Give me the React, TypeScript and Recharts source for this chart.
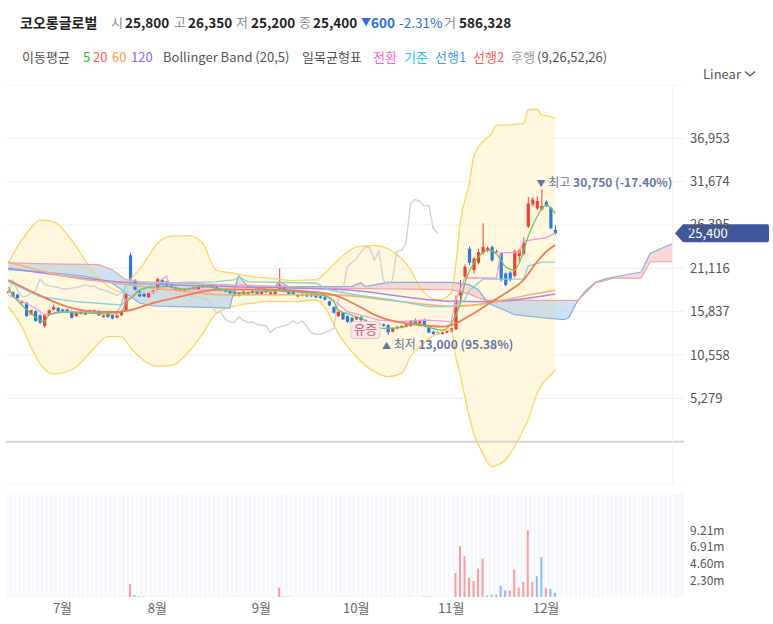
import React from "react";
import {
  ComposedChart,
  Bar,
  Line,
  Area,
  XAxis,
  YAxis,
  CartesianGrid,
  ReferenceLine,
  ReferenceDot,
  Cell,
} from "recharts";

const FONT = "'Noto Sans CJK KR', 'Noto Sans', sans-serif";

// daily candles, mid-June .. Dec 3 (index = trading day)
const opens = [
  18100, 18200, 17900, 16900, 16900, 15500, 15900, 15400, 14100, 15500, 16100, 16300, 16100, 16100, 15900, 15300,
  15600, 15700, 15800, 15900, 15900, 15200, 15600, 15400, 15100, 15400, 16000, 22700, 19600, 18300, 18000, 17600,
  18100, 18500, 19700, 19500, 19100, 18500, 18400, 18400, 18500, 18700, 18600, 18800, 19000, 19100, 18800, 18400,
  18500, 18500, 18300, 17800, 18000, 18000, 18100, 18300, 18000, 18400, 18000, 17900, 18500, 18900, 18300, 18300,
  17700, 17800, 18000, 17900, 17900, 17700, 17600, 17100, 16400, 15300, 15700, 15300, 15100, 14900, 15200, 14800,
  14500, 14600, 14400, 14300, 14200, 13400, 13800, 13900, 14000, 14100, 14800, 14400, 14700, 13900, 13400, 13300,
  13100, 13300, 13400, 13700, 17800, 20100, 23500, 20900, 21800, 23000, 23300, 23700, 23100, 23000, 20500, 20600,
  20200, 22600, 22900, 26200, 28900, 28400, 28300, 29200, 28500, 25800,
];
const highs = [
  18500, 18300, 18000, 17200, 17000, 16100, 16000, 15500, 15600, 16100, 16700, 16400, 16200, 16200, 16000, 15900,
  15900, 15800, 16100, 16100, 16000, 15500, 15700, 15500, 15500, 16000, 18100, 23000, 19800, 18500, 18100, 18200,
  18500, 20000, 19900, 19600, 19200, 18900, 18700, 18700, 18800, 18900, 19000, 19200, 19100, 19200, 18900, 18600,
  18600, 18600, 18400, 18200, 18400, 18300, 18500, 18400, 18400, 18500, 18300, 18400, 21100, 19000, 18400, 18400,
  18000, 18100, 18100, 18000, 18000, 17800, 17700, 17200, 16500, 15900, 15800, 15400, 15200, 15300, 15300, 14900,
  14700, 14700, 14500, 14400, 14300, 13900, 14100, 14200, 14400, 14800, 15000, 14800, 15000, 14000, 13500, 13400,
  13400, 13600, 13900, 17800, 19700, 21600, 23800, 22500, 23500, 26600, 23800, 23900, 23400, 23100, 20600, 20800,
  23400, 23500, 24900, 29800, 29800, 29900, 30750, 29400, 28600, 26350,
];
const lows = [
  18000, 17600, 17400, 16800, 15200, 15400, 14600, 14300, 13900, 15400, 16000, 15800, 15800, 15700, 15000, 15200,
  15500, 15400, 15700, 15800, 15300, 15100, 15100, 14900, 15000, 15300, 15900, 19500, 18400, 17600, 17600, 17500,
  18000, 18400, 19100, 18900, 18800, 18400, 18300, 18300, 18400, 18600, 18500, 18700, 18800, 18900, 18500, 18300,
  18200, 18000, 17700, 17700, 17900, 17900, 18000, 17900, 17900, 18100, 17900, 17800, 18400, 18200, 17900, 17900,
  17600, 17700, 17600, 17600, 17500, 17400, 17200, 16500, 15600, 15200, 14800, 14500, 14400, 14800, 14700, 14400,
  14400, 14200, 14100, 14000, 13000, 13300, 13700, 13800, 13900, 14000, 14300, 14300, 14000, 13200, 13050, 13050,
  13050, 13200, 13300, 13600, 16900, 19900, 21500, 20500, 21600, 22800, 23100, 21900, 23000, 19500, 18900, 19500,
  20000, 21900, 22700, 26000, 28600, 28200, 28100, 28600, 25900, 25200,
];
const closes = [
  18300, 17700, 17500, 17100, 15300, 16000, 14700, 14500, 15500, 16000, 16400, 15900, 15900, 15800, 15100, 15800,
  15800, 15500, 16000, 16000, 15400, 15400, 15200, 15000, 15400, 15900, 18000, 19700, 18500, 17700, 17700, 18100,
  18400, 19800, 19200, 19000, 18900, 18800, 18600, 18600, 18700, 18800, 18900, 19100, 18900, 19000, 18600, 18500,
  18300, 18100, 17800, 18100, 18300, 18200, 18400, 18000, 18300, 18200, 18200, 18300, 19100, 18300, 18000, 18000,
  17900, 18000, 17700, 17700, 17600, 17500, 17300, 16600, 15700, 15800, 14900, 14600, 14500, 15200, 14800, 14500,
  14600, 14300, 14200, 14100, 13300, 13800, 14000, 14100, 14300, 14700, 14400, 14700, 14100, 13300, 13100, 13100,
  13300, 13500, 13800, 17300, 18300, 21300, 21800, 22300, 23100, 23700, 23600, 22100, 23200, 19700, 19100, 19700,
  23200, 23300, 24200, 29000, 29500, 29300, 28700, 28800, 26000, 25400,
];
// volume in millions of shares
const volumes = [
  0.02, 0.02, 0.02, 0.02, 0.02, 0.02, 0.02, 0.02, 0.02, 0.02, 0.02, 0.02, 0.02, 0.02, 0.02, 0.02,
  0.02, 0.02, 0.02, 0.02, 0.02, 0.02, 0.02, 0.02, 0.02, 0.02, 0.02, 1.75, 0.25, 0.1, 0.08, 0.02,
  0.02, 0.05, 0.05, 0.02, 0.02, 0.02, 0.02, 0.02, 0.02, 0.02, 0.02, 0.02, 0.02, 0.02, 0.02, 0.02,
  0.02, 0.02, 0.02, 0.02, 0.02, 0.02, 0.02, 0.02, 0.02, 0.02, 0.02, 0.02, 1.3, 0.1, 0.08, 0.02,
  0.02, 0.02, 0.02, 0.02, 0.02, 0.02, 0.02, 0.02, 0.02, 0.04, 0.02, 0.04, 0.02, 0.02, 0.02, 0.02,
  0.02, 0.02, 0.02, 0.02, 0.05, 0.02, 0.02, 0.02, 0.02, 0.05, 0.02, 0.02, 0.08, 0.08, 0.02, 0.02,
  0.02, 0.02, 0.02, 3.3, 6.98, 5.6, 2.67, 2.2, 3.91, 5.29, 0.19, 0.33, 0.37, 1.57, 0.92, 0.92,
  3.77, 1.29, 2.07, 9.18, 2.07, 2.85, 5.51, 1.29, 1.1, 0.586,
];

const monthTicks = [12, 33, 56, 77, 98, 119];
const monthLabels = ["7월", "8월", "9월", "10월", "11월", "12월"];
const priceTicks = [5279, 10558, 15837, 21116, 26395, 31674, 36953];
const volumeTicks = [2.3, 4.6, 6.91, 9.21];

// indicator lines: [day index, value]
const ma5Pts = [
  [0, 18880], [1, 17870], [3, 16650], [5, 15640], [7, 14820], [8, 14620], [9, 15430], [12, 15830], [15, 15710],
  [19, 15640], [23, 15550], [25, 15830], [26, 16860], [28, 17870], [29, 18480], [33, 18880], [35, 18880],
  [39, 18560], [43, 18880], [48, 18480], [51, 18150], [56, 18270], [59, 18390], [62, 18270], [67, 18080],
  [70, 17750], [72, 17050], [73, 16040], [76, 15430], [78, 15030], [83, 13810], [87, 13930], [90, 14420],
  [93, 13930], [96, 13600], [98, 14420], [100, 16860], [101, 19290], [103, 21730], [105, 23020], [106, 23350],
  [108, 22860], [110, 21320], [112, 20910], [113, 21730], [115, 24970], [117, 27400], [119, 28830], [121, 27820],
];
const ma20Pts = [
  [0, 19700], [6, 18080], [13, 16440], [19, 15830], [24, 15800], [27, 16040], [32, 16890], [38, 17660],
  [43, 18270], [47, 18560], [54, 18560], [60, 18480], [66, 18270], [72, 17870], [77, 16650], [82, 15230],
  [87, 14490], [91, 14210], [96, 14010], [98, 14210], [103, 15640], [107, 17050], [110, 18080], [114, 19700],
  [117, 21920], [119, 23140], [121, 23960],
];
const ma60Pts = [
  [0, 21890], [13, 20100], [24, 19290], [37, 18400], [48, 17900], [60, 17900], [73, 17850], [85, 17200],
  [98, 16500], [106, 16850], [115, 17870], [121, 18450],
];
const ma120Pts = [
  [0, 21120], [24, 19490], [50, 18880], [75, 18480], [98, 17100], [106, 17050], [121, 17990],
];
const convPts = [
  [0, 17870], [6, 16280], [8, 15430], [13, 15840], [24, 15840], [26, 17260], [29, 18480], [33, 19330],
  [35, 20180], [36, 18720], [43, 18480], [54, 18480], [63, 18480], [69, 18230], [72, 17260], [75, 15840],
  [78, 15430], [82, 14820], [87, 14620], [92, 14820], [98, 14620], [99, 17260], [101, 19940], [108, 19940],
  [109, 23020], [113, 23020], [114, 24430], [119, 24840], [121, 25440],
];
const basePts = [
  [0, 19490], [7, 17660], [15, 17060], [25, 16650], [26, 19090], [34, 19330], [46, 19490], [50, 19700],
  [51, 20100], [53, 19490], [68, 19330], [71, 18480], [77, 17870], [85, 17260], [93, 16450], [98, 16450],
  [100, 16900], [101, 17300], [102, 18400], [105, 19800], [114, 19800], [115, 21400], [118, 21870], [121, 21870],
];
// leading spans (shifted 26 days ahead)
const cloudIdx = [
  0, 6, 12, 17, 20, 23, 26, 29, 32, 42, 49, 50, 51, 53, 56, 59, 60, 62, 66, 71, 76, 78, 79, 84, 92, 98, 102, 104,
  106, 112, 118, 123, 124, 126, 128, 130, 132, 134, 140, 142, 147,
];
const span1 = [
  20950, 20750, 20450, 20140, 19800, 19330, 18100, 16890, 16530, 16380, 16280, 18510, 20220, 18880, 18630, 18880,
  19530, 18880, 18880, 18880, 18920, 19370, 18880, 19410, 19410, 19410, 19130, 18510, 16930, 15470, 15100, 14860,
  15100, 17210, 18510, 19450, 19800, 20060, 20670, 22920, 24140,
];
const span2 = [
  21770, 21700, 21640, 21600, 21560, 20950, 19730, 19490, 19430, 19250, 19100, 19080, 19060, 19030, 18980, 18930,
  18910, 18880, 18750, 18700, 18670, 18650, 18640, 18610, 18560, 18510, 18000, 17500, 17210, 17210, 17210, 17210,
  17210, 17210, 18300, 19370, 19600, 19930, 19930, 21920, 21920,
];
// Bollinger band
const bbIdx = [
  0, 3, 5, 7, 10, 14, 18, 22, 25, 27, 30, 33, 36, 40, 43, 46, 50, 54, 58, 63, 68, 70, 73, 77, 81, 84, 87, 89, 91,
  95, 98, 99, 100, 102, 103, 105, 107, 108, 110, 112, 114, 115, 117, 118, 120, 121,
];
const bbUpper = [
  21770, 24570, 26000, 27000, 26800, 24570, 21320, 19000, 18270, 19700, 21730, 24170, 25050, 25090, 24170, 20910,
  20510, 20100, 19900, 19650, 19700, 20500, 22130, 23700, 23900, 23500, 22300, 21000, 18880, 17260, 18110, 21500,
  26640, 31500, 34710, 36540, 37560, 38570, 38570, 38650, 38780, 40400, 40490, 39790, 39590, 39390,
];
const bbLower = [
  16440, 14010, 11570, 9550, 8250, 8730, 10770, 12790, 12790, 11500, 9900, 9200, 9300, 11000, 13200, 15600,
  16500, 16860, 17050, 17050, 17260, 16440, 13200, 10350, 8530, 7920, 8330, 10350, 11570, 13200, 13610, 10350,
  8100, 3050, 1000, -1500, -3050, -2900, -2230, -610, 1500, 2640, 5900, 6900, 8120, 8730,
];

const rightsIssueDay = 79;
const LAG = 26;
const SLOTS = 150;

// ---- table for recharts ----
const rows: any[] = Array.from({ length: SLOTS }, (_, i) => ({ i }));
closes.forEach((c, i) => {
  Object.assign(rows[i], {
    o: opens[i],
    h: highs[i],
    l: lows[i],
    c,
    vol: volumes[i],
    up: i === 0 ? c >= opens[i] : c >= closes[i - 1],
  });
  if (i - LAG >= 0) rows[i - LAG].lag = c;
});
const put = (key: string, pts: number[][]) => pts.forEach(([i, v]) => (rows[i][key] = v));
put("ma5", ma5Pts);
put("ma20", ma20Pts);
put("ma60", ma60Pts);
put("ma120", ma120Pts);
put("conv", convPts);
put("base", basePts);
cloudIdx.forEach((i, k) => {
  rows[i].s1 = span1[k];
  rows[i].s2 = span2[k];
});
bbIdx.forEach((i, k) => {
  rows[i].bbU = bbUpper[k];
  rows[i].bbL = bbLower[k];
});

// split cloud into same-colour runs (red when span1 is above)
const cloudRuns: { key: string; red: boolean }[] = [];
{
  let start = 0;
  for (let k = 1; k <= cloudIdx.length; k++) {
    const red = span1[start] > span2[start];
    const nextRed = k < cloudIdx.length ? span1[k] > span2[k] : !red;
    if (nextRed !== red) {
      const key = "cloud" + cloudRuns.length;
      for (let j = start; j <= Math.min(k, cloudIdx.length - 1); j++) {
        rows[cloudIdx[j]][key] = [Math.min(span1[j], span2[j]), Math.max(span1[j], span2[j])];
      }
      cloudRuns.push({ key, red });
      start = k;
    }
  }
}

const lastClose = closes[closes.length - 1];
const minLow = Math.min(...lows);
const maxHigh = Math.max(...highs);
const lowDay = lows.indexOf(minLow);
const highDay = highs.indexOf(maxHigh);
const pct = (v: number) => ((lastClose / v - 1) * 100).toFixed(2);
const fmt = (v: number) => v.toLocaleString("en-US");

const RED = "#ef4036";
const BLUE = "#2a78dc";

const Candle = (p: any) => {
  const { x, y, width, height, payload } = p;
  if (!payload || payload.o == null || height == null) return null;
  const { o, h, l, c } = payload;
  const top = Math.min(y, y + height);
  const bot = Math.max(y, y + height);
  const k = (bot - top) / (h - l || 1);
  const py = (v: number) => top + (h - v) * k;
  const color = c >= o ? RED : BLUE;
  const cx = x + width / 2;
  const bt = py(Math.max(o, c));
  const bb = py(Math.min(o, c));
  return (
    <g>
      <line x1={cx} x2={cx} y1={top} y2={bot} stroke={color} strokeWidth={1} />
      <rect x={cx - 1.6} y={bt} width={3.2} height={Math.max(bb - bt, 1)} fill={color} />
    </g>
  );
};

const RightTick = (p: any) => (
  <text x={p.x} y={p.y} dy={4.5} fontSize={p.size || 13} fill="#555" textAnchor="start" fontFamily={FONT}>
    {p.fmt(p.payload.value)}
  </text>
);

const PriceTag = (p: any) => {
  const vb = p.viewBox || {};
  const x0 = vb.x + vb.width;
  const y = vb.y;
  return (
    <g>
      <path
        d={`M${x0 - 9},${y} L${x0 - 1},${y - 9} L${x0 + 83},${y - 9} Q${x0 + 85},${y - 9} ${x0 + 85},${y - 7} L${x0 + 85},${y + 7} Q${x0 + 85},${y + 9} ${x0 + 83},${y + 9} L${x0 - 1},${y + 9} Z`}
        fill="#40589a"
      />
      <text x={x0 + 4} y={y + 4.5} fontSize={13} fill="#fff" fontFamily={FONT}>
        {fmt(lastClose)}
      </text>
    </g>
  );
};

const HighMark = (p: any) => (
  <text x={p.cx - 5} y={p.cy - 2.5} fontSize={12} fill="#6676a3" fontFamily={FONT}>
    <tspan fontSize={9}>▼</tspan>
    <tspan> 최고 </tspan>
    <tspan fontWeight={700}>{`${fmt(maxHigh)} (${pct(maxHigh)}%)`}</tspan>
  </text>
);

const LowMark = (p: any) => (
  <text x={p.cx - 6} y={p.cy + 14.5} fontSize={12} fill="#6676a3" fontFamily={FONT}>
    <tspan fontSize={9}>▲</tspan>
    <tspan> 최저 </tspan>
    <tspan fontWeight={700}>{`${fmt(minLow)} (${pct(minLow)}%)`}</tspan>
  </text>
);

const RightsBadge = (p: any) => (
  <g>
    <rect x={p.cx - 14.5} y={p.cy - 2} width={29} height={17} rx={3} fill="#fce8eb" stroke="#f3c3ca" />
    <text x={p.cx} y={p.cy + 11} fontSize={13} fill="#b8646f" textAnchor="middle" fontFamily={FONT}>
      유증
    </text>
  </g>
);

const line = (key: string, color: string, width = 1.2, type: any = "monotone") => (
  <Line
    key={key}
    dataKey={key}
    stroke={color}
    strokeWidth={width}
    dot={false}
    activeDot={false}
    connectNulls
    type={type}
    isAnimationActive={false}
  />
);

function Header() {
  const gray = "#8b8b8b";
  const ink = "#222";
  const line1: [string, number, string, number, number][] = [
    ["코오롱글로벌", 20, ink, 700, 14],
    ["시", 111, gray, 400, 13],
    ["25,800", 125, ink, 700, 13.5],
    ["고", 174, gray, 400, 13],
    ["26,350", 188, ink, 700, 13.5],
    ["저", 236, gray, 400, 13],
    ["25,200", 251, ink, 700, 13.5],
    ["종", 299, gray, 400, 13],
    ["25,400", 313, ink, 700, 13.5],
    ["600", 371, "#2a6fe0", 600, 13.5],
    ["-2.31%", 399, "#2a6fe0", 400, 13.5],
    ["거", 444, gray, 400, 13],
    ["586,328", 459, ink, 700, 13.5],
  ];
  const line2: [string, number, string][] = [
    ["이동평균", 22, "#555"],
    ["5", 83, "#2cb833"],
    ["20", 93, "#ff5a5a"],
    ["60", 112, "#ff9a45"],
    ["120", 131, "#8a63ee"],
    ["Bollinger Band (20,5)", 163, "#555"],
    ["일목균형표", 302, "#555"],
    ["전환", 373, "#ff5fd0"],
    ["기준", 404, "#22c4dd"],
    ["선행1", 435, "#4a98ee"],
    ["선행2", 473, "#ff5a5a"],
    ["후행", 511, "#999"],
    ["(9,26,52,26)", 537, "#555"],
  ];
  return (
    <>
      {line1.map(([t, x, col, w, fs]) => (
        <span key={t + x} style={{ position: "absolute", left: x, top: 13, fontSize: fs, lineHeight: "18px", color: col, fontWeight: w }}>
          {t}
        </span>
      ))}
      <span style={{ position: "absolute", left: 361, top: 13, fontSize: 10, lineHeight: "18px", color: "#2a6fe0" }}>▼</span>
      {line2.map(([t, x, col]) => (
        <span key={t + x} style={{ position: "absolute", left: x, top: 48, fontSize: 13, lineHeight: "18px", color: col }}>
          {t}
        </span>
      ))}
      <span style={{ position: "absolute", left: 703, top: 65, fontSize: 13, lineHeight: "18px", color: "#555" }}>Linear</span>
      <svg style={{ position: "absolute", left: 744, top: 70 }} width={12} height={8}>
        <polyline points="1,1.5 6,6 11,1.5" fill="none" stroke="#555" strokeWidth={1.3} />
      </svg>
      <span style={{ position: "absolute", left: 22, top: 500, fontSize: 13, lineHeight: "18px", color: "#444" }}>거래량</span>
      <span style={{ position: "absolute", left: 66, top: 500, fontSize: 13, lineHeight: "18px", color: "#111", fontWeight: 700 }}>
        {fmt(Math.round(volumes[volumes.length - 1] * 1e6))}
      </span>
    </>
  );
}

export default function App() {
  return (
    <div style={{ position: "absolute", left: 0, top: 0, width: 773, height: 624, background: "#fff", fontFamily: FONT, overflow: "hidden" }}>
      <Header />

      <div style={{ position: "absolute", left: 0, top: 85 }}>
        <ComposedChart width={773} height={400} data={rows} margin={{ top: 0, right: 0, bottom: 0, left: 6 }}>
          <CartesianGrid vertical={false} stroke="#f0f0f0" />
          <XAxis dataKey="i" type="category" hide />
          <YAxis
            orientation="right"
            width={89}
            domain={[-5274, 43446]}
            ticks={priceTicks}
            interval={0}
            allowDataOverflow
            axisLine={false}
            tickLine={false}
            tickSize={0}
            tickMargin={6}
            tick={(p: any) => <RightTick {...p} fmt={fmt} />}
          />
          <Area
            dataKey={(r: any) => (r.bbU == null ? null : [r.bbL, r.bbU])}
            type="monotone"
            stroke="none"
            fill="#fff3c8"
            fillOpacity={0.6}
            connectNulls
            isAnimationActive={false}
          />
          {cloudRuns.map((run) => (
            <Area
              key={run.key}
              dataKey={run.key}
              type="linear"
              stroke="none"
              fill={run.red ? "#f9c9cc" : "#a9c9ea"}
              fillOpacity={run.red ? 0.75 : 0.55}
              connectNulls
              isAnimationActive={false}
            />
          ))}
          {line("bbU", "#fcd462", 1.3)}
          {line("bbL", "#fcd462", 1.3)}
          {line("s1", "#7fb1e6", 1.2, "linear")}
          {line("s2", "#f4a1a1", 1.2, "linear")}
          {line("lag", "#cfcfd6", 1.3, "linear")}
          {line("ma120", "#a987ee", 1.6)}
          {line("ma60", "#f8b06c", 1.6)}
          {line("base", "#7fd5df", 1.3, "linear")}
          {line("conv", "#f79ad9", 1.3, "linear")}
          {line("ma20", "#f27b52", 1.8)}
          <ReferenceLine y={0} stroke="#d4d4d4" strokeWidth={2} />
          <ReferenceLine x={147} stroke="#f0f0f0" />
          <Bar
            dataKey={(r: any) => (r.o == null ? null : [r.l, r.h])}
            shape={Candle}
            barSize={3}
            isAnimationActive={false}
          />
          {line("ma5", "#6cc45f", 1.3)}
          <ReferenceDot x={rightsIssueDay} y={lows[rightsIssueDay]} r={0} shape={RightsBadge} />
          <ReferenceDot x={highDay} y={maxHigh} r={0} shape={HighMark} />
          <ReferenceDot x={lowDay} y={minLow} r={0} shape={LowMark} />
          <ReferenceLine y={lastClose} stroke="none" label={<PriceTag />} />
        </ComposedChart>
      </div>

      <div style={{ position: "absolute", left: 0, top: 480 }}>
        <ComposedChart width={773} height={140} data={rows} margin={{ top: 13, right: 0, bottom: 0, left: 6 }}>
          <CartesianGrid
            horizontal={false}
            fill="#f5f7fc"
            stroke="#ffffff"
            strokeWidth={1.5}
            verticalCoordinatesGenerator={({ offset }: any) =>
              Array.from({ length: 148 }, (_, i) => offset.left + ((i + 0.5) * offset.width) / SLOTS)
            }
          />
          <XAxis
            dataKey="i"
            type="category"
            ticks={monthTicks}
            interval={0}
            height={23}
            axisLine={false}
            tickLine={false}
            tickSize={0}
            tickMargin={7}
            tick={{ fontSize: 13, fill: "#666", fontFamily: FONT }}
            tickFormatter={(v: number) => monthLabels[monthTicks.indexOf(v)]}
          />
          <YAxis
            orientation="right"
            width={89}
            domain={[0, 14.3]}
            ticks={volumeTicks}
            interval={0}
            axisLine={false}
            tickLine={false}
            tickSize={0}
            tickMargin={6}
            tick={(p: any) => <RightTick {...p} size={12} fmt={(v: number) => v.toFixed(2) + "m"} />}
          />
          <Bar dataKey="vol" barSize={2} isAnimationActive={false}>
            {rows.map((r) => (
              <Cell key={r.i} fill={r.up ? "#f5a0a0" : "#8cbdf3"} />
            ))}
          </Bar>
        </ComposedChart>
      </div>
    </div>
  );
}
